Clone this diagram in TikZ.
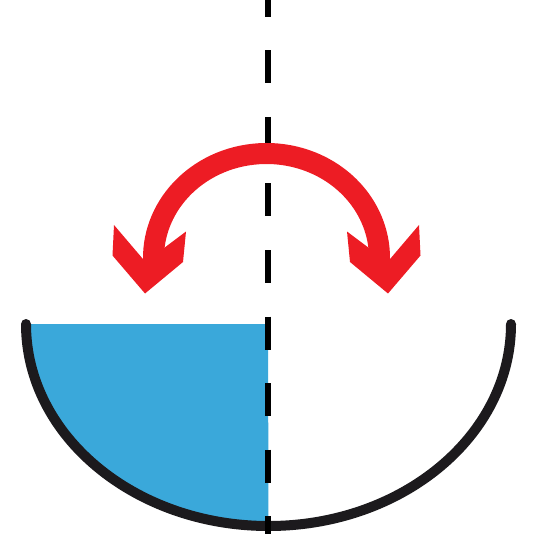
\documentclass[tikz,border=0pt]{standalone}
\usepackage{tikz}

\definecolor{waterblue}{HTML}{3AA8DA}
\definecolor{swingred}{HTML}{ED1C24}
\definecolor{bowlgray}{HTML}{1C1A1D}

\begin{document}
\begin{tikzpicture}[
    x=1pt, y=-1pt,
    bowl/.style={draw=bowlgray, line width=10pt, line cap=round},
    water/.style={fill=waterblue},
    axisline/.style={draw=black, line width=6pt, dash pattern=on 33pt off 33.5pt, dash phase=16pt},
    swing/.style={draw=swingred, line width=21pt},
    swinghead/.style={fill=swingred}
]
\useasboundingbox (0,0) rectangle (534,534);

\coordinate (rimL) at (26,324);
\coordinate (mid) at (268,324);
\coordinate (axtop) at (268,0);
\coordinate (axbot) at (268,534);
\coordinate (swc) at (266.5,258);

% water in the left half
\path[water] (rimL) arc[start angle=180, end angle=270, x radius=242.5pt, y radius=202pt] -- (mid) -- cycle;

% bowl
\draw[bowl] (rimL) arc[start angle=180, end angle=360, x radius=242.5pt, y radius=202pt];

% symmetry axis
\draw[axisline] (axtop) -- (axbot);

% swinging arrow
\draw[swing] (swc) ++(184:113pt and 104.5pt) arc[start angle=184, end angle=-4, x radius=113pt, y radius=104.5pt];
\fill[swinghead] (114,225) -- (112.5,255.5) -- (145,293.5) -- (183,262) -- (186,231.5) -- (145.5,262) -- cycle;
\fill[swinghead] (419,225) -- (420.5,255.5) -- (388,293.5) -- (350,262) -- (347,231.5) -- (387.5,262) -- cycle;
\end{tikzpicture}
\end{document}
